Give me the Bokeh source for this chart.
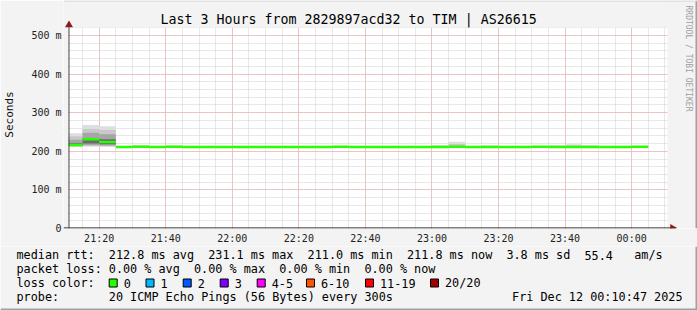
import math
from bokeh.plotting import figure
from bokeh.layouts import column
from bokeh.models import Range1d, FixedTicker
from bokeh.core.properties import value
from bokeh.embed import file_html
from bokeh.resources import INLINE

FONT = "DejaVu Sans Mono"
BG = "#f3f3f3"

# ---------------- data ----------------
title_text = "Last 3 Hours from 2829897acd32 to TIM | AS26615"
window_end = "00:10:47"
window_hours = 3

bin_start = ["21:10", "21:15", "21:20", "21:25", "21:30", "21:35", "21:40", "21:45", "21:50", "21:55",
             "22:00", "22:05", "22:10", "22:15", "22:20", "22:25", "22:30", "22:35", "22:40", "22:45",
             "22:50", "22:55", "23:00", "23:05", "23:10", "23:15", "23:20", "23:25", "23:30", "23:35",
             "23:40", "23:45", "23:50", "23:55", "00:00"]
bin_minutes = 5

median_ms = [216.0, 231.1, 224.0, 211.3, 211.6, 211.4, 211.5, 211.2, 211.3, 211.4,
             211.2, 211.3, 211.1, 211.4, 211.2, 211.3, 211.5, 211.2, 211.0, 211.3,
             211.2, 211.4, 211.3, 211.6, 211.2, 211.4, 211.3, 211.2, 211.5, 211.3,
             211.4, 211.2, 211.3, 211.1, 211.8]

smoke_max = [247, 268, 265, 213, 216, 213, 215, 213, 213, 213,
             213, 213, 213, 213, 213, 213, 213, 213, 213, 213,
             213, 213, 216, 225, 213, 215.5, 213, 213, 213, 216,
             218.5, 216, 213, 213, 213]
smoke_p90 = [239, 258, 255, 212.5, 214, 212.5, 213.5, 212.5, 212.5, 212.5,
             212.5, 212.5, 212.5, 212.5, 212.5, 212.5, 212.5, 212.5, 212.5, 212.5,
             212.5, 212.5, 214, 219, 212.5, 213.5, 212.5, 212.5, 212.5, 214,
             215, 214, 212.5, 212.5, 212.5]
smoke_p75 = [230, 248, 244, 212, 212.5, 212, 212.5, 212, 212, 212,
             212, 212, 212, 212, 212, 212, 212, 212, 212, 212,
             212, 212, 212.5, 214, 212, 212.5, 212, 212, 212, 212.5,
             213, 212.5, 212, 212, 212]
smoke_p60 = [221, 234, 231, 211.7, 211.9, 211.7, 211.8, 211.6, 211.6, 211.7,
             211.6, 211.6, 211.5, 211.7, 211.6, 211.6, 211.8, 211.6, 211.4, 211.7,
             211.6, 211.7, 211.7, 212.0, 211.6, 211.8, 211.7, 211.6, 211.8, 211.7,
             211.8, 211.6, 211.7, 211.5, 212.1]
smoke_p40 = [215, 220, 218, 211.0, 211.3, 211.1, 211.2, 210.9, 211.0, 211.1,
             210.9, 211.0, 210.8, 211.1, 210.9, 211.0, 211.2, 210.9, 210.7, 211.0,
             210.9, 211.1, 211.0, 211.3, 210.9, 211.1, 211.0, 210.9, 211.2, 211.0,
             211.1, 210.9, 211.0, 210.8, 211.5]
smoke_p25 = [214, 216, 215, 210.8, 211.0, 210.8, 210.9, 210.7, 210.8, 210.8,
             210.7, 210.8, 210.6, 210.8, 210.7, 210.8, 210.9, 210.7, 210.5, 210.8,
             210.7, 210.8, 210.8, 211.0, 210.7, 210.8, 210.8, 210.7, 210.9, 210.8,
             210.8, 210.7, 210.8, 210.6, 211.2]
smoke_p10 = [212.5, 213.5, 213, 210.6, 210.7, 210.6, 210.7, 210.5, 210.6, 210.6,
             210.5, 210.6, 210.4, 210.6, 210.5, 210.6, 210.7, 210.5, 210.3, 210.6,
             210.5, 210.6, 210.6, 210.8, 210.5, 210.6, 210.6, 210.5, 210.7, 210.6,
             210.6, 210.5, 210.6, 210.4, 211.0]
smoke_min = [211, 212, 212, 210.4, 210.5, 210.4, 210.5, 210.3, 210.4, 210.4,
             210.3, 210.4, 210.2, 210.4, 210.3, 210.4, 210.5, 210.3, 210.1, 210.4,
             210.3, 210.4, 210.4, 210.6, 210.3, 210.4, 210.4, 210.3, 210.5, 210.4,
             210.4, 210.3, 210.4, 210.2, 210.8]

x_tick_labels = ["21:20", "21:40", "22:00", "22:20", "22:40", "23:00", "23:20", "23:40", "00:00"]
y_ticks = [0, 100, 200, 300, 400, 500]
y_tick_labels = ["0", "100 m", "200 m", "300 m", "400 m", "500 m"]
y_max = 520.7

rtt_avg, rtt_max, rtt_min, rtt_now, rtt_sd, am_s = 212.8, 231.1, 211.0, 211.8, 3.8, 55.4
loss_avg, loss_max, loss_min, loss_now = 0.00, 0.00, 0.00, 0.00
loss_labels = ["0", "1", "2", "3", "4-5", "6-10", "11-19", "20/20"]
loss_colors = ["#26ff00", "#00b8ff", "#0059ff", "#7e00ff", "#ff00ff", "#ff5500", "#ff0000", "#a00000"]
probe_text = "20 ICMP Echo Pings (56 Bytes) every 300s"
date_text = "Fri Dec 12 00:10:47 2025"
credit_text = "RRDTOOL / TOBI OETIKER"


def to_min(s):
    parts = [int(v) for v in s.split(":")]
    h = parts[0] + (24 if parts[0] < 12 else 0)
    sec = parts[2] if len(parts) > 2 else 0
    return (h - 21) * 60 + parts[1] + sec / 60.0


x_end = to_min(window_end)
x_start = x_end - window_hours * 60
starts = [to_min(s) for s in bin_start]
ends = [s + bin_minutes for s in starts]

# ---------------- layout (pixels) ----------------
W = 697
H_MAIN, H_LEG = 246, 64
CH_L, CH_R, CH_T, CH_B = 67, 667, 27, 228        # white chart area in canvas px
FR_L = 62                                        # frame left (room for axis stub)
PX_PER_MIN = (CH_R - CH_L) / (window_hours * 60)
PX_PER_Y = (CH_B - CH_T) / y_max

x_lo = x_start - (CH_L - FR_L) / PX_PER_MIN
x_hi = x_end + (W - CH_R) / PX_PER_MIN
y_hi = CH_B / PX_PER_Y


def dx(cx):
    return x_start + (cx - CH_L) / PX_PER_MIN


def dy(cy):
    return (CH_B - cy) / PX_PER_Y


p = figure(width=W, height=H_MAIN, output_backend="svg", toolbar_location=None,
           x_range=Range1d(x_lo, x_hi), y_range=Range1d(0, y_hi),
           min_border_left=FR_L, min_border_right=0, min_border_top=0,
           min_border_bottom=H_MAIN - CH_B, frame_align=False)
p.border_fill_color = BG
p.background_fill_color = "#ffffff"
p.outline_line_color = None

# smoke layers
layers = [(smoke_min, smoke_max, "#dedede"), (smoke_p10, smoke_p90, "#c8c8c8"),
          (smoke_p25, smoke_p75, "#a6a6a6"), (smoke_p40, smoke_p60, "#6a6a6a")]
for lo, hi, col in layers:
    p.quad(left=starts, right=ends, bottom=lo, top=hi, fill_color=col, line_color=None)

p.segment(x0=starts, y0=median_ms, x1=ends, y1=median_ms, line_color="#26ff00",
          line_width=2.5, line_cap="butt")

# background outside the white chart area
p.quad(left=[x_lo, x_end, x_lo], right=[x_start, x_hi, x_hi],
       bottom=[0, 0, y_max], top=[y_hi, y_hi, y_hi],
       fill_color=BG, line_color=None)

# axis lines with arrows
p.segment(x0=[dx(62)], y0=[dy(227.5)], x1=[dx(671)], y1=[dy(227.5)], line_color="#000000", line_width=1)
p.segment(x0=[dx(67.5)], y0=[dy(228)], x1=[dx(67.5)], y1=[dy(25)], line_color="#444444", line_width=1)
p.scatter(x=[dx(672)], y=[dy(227.5)], marker="triangle", size=8, angle=-math.pi / 2,
          fill_color="#8b1a1a", line_color=None)
p.scatter(x=[dx(67.5)], y=[dy(24.5)], marker="triangle", size=8,
          fill_color="#8b1a1a", line_color=None)

# title and credit
p.text(x=[dx(347.5)], y=[dy(19)], text=[title_text], text_font=value(FONT),
       text_font_size="13.3px", text_align="center", text_baseline="middle", text_color="#000000")
p.text(x=[dx(688)], y=[dy(58)], text=[credit_text], text_font=value(FONT),
       text_font_size="8px", text_align="center", text_baseline="middle",
       text_color="#a0a0a0", angle=-math.pi / 2)

# frame shading (right / top)
p.quad(left=[dx(695)], right=[x_hi], bottom=[0], top=[y_hi], fill_color="#a0a0a0", line_color=None)
p.quad(left=[x_lo], right=[x_hi], bottom=[dy(1)], top=[y_hi], fill_color="#d0d0d0", line_color=None)

# axes
xt = [to_min(t) for t in x_tick_labels]
x_minor = list(range(15, int(x_end) + 1, 5))
p.xaxis.ticker = FixedTicker(ticks=xt, minor_ticks=x_minor)
p.xaxis.major_label_overrides = {v: l for v, l in zip(xt, x_tick_labels)}
p.yaxis.ticker = FixedTicker(ticks=y_ticks, minor_ticks=list(range(0, 521, 20)))
p.yaxis.major_label_overrides = {v: l for v, l in zip(y_ticks, y_tick_labels)}

for ax in (p.xaxis[0], p.yaxis[0]):
    ax.major_tick_out = 0
    ax.major_tick_in = 0
    ax.minor_tick_out = 0
    ax.minor_tick_in = 0
    ax.axis_line_color = None
    ax.major_label_text_font = FONT
    ax.major_label_text_font_size = "10px"
    ax.major_label_text_color = "#222222"
p.xaxis.major_label_standoff = 4
p.yaxis.major_label_standoff = 2
p.yaxis.axis_label = "Seconds"
p.yaxis.axis_label_text_font = FONT
p.yaxis.axis_label_text_font_size = "11px"
p.yaxis.axis_label_text_font_style = "normal"
p.yaxis.axis_label_text_color = "#111111"
p.yaxis.axis_label_standoff = 12

for g in (p.xgrid[0], p.ygrid[0]):
    g.grid_line_color = "#f2a0a0"
    g.grid_line_dash = "1 1"
    g.minor_grid_line_color = "#d0d0d0"
    g.minor_grid_line_dash = "1 1"

# ---------------- legend strip ----------------
leg = figure(width=W, height=H_LEG, output_backend="svg", toolbar_location=None,
             x_range=Range1d(0, W), y_range=Range1d(H_MAIN + H_LEG, H_MAIN),
             x_axis_type=None, y_axis_type=None, frame_align=False,
             min_border_left=0, min_border_right=0, min_border_top=0, min_border_bottom=0)
leg.border_fill_color = BG
leg.background_fill_color = BG
leg.outline_line_color = None
leg.xgrid.visible = False
leg.ygrid.visible = False

CW = 7.1
X0 = 16
rows_y = [254.5, 268.5, 282.5, 296.5]
row1 = [("median rtt:", 0), (f"{rtt_avg:.1f} ms avg", 13), (f"{rtt_max:.1f} ms max", 27),
        (f"{rtt_min:.1f} ms min", 41), (f"{rtt_now:.1f} ms now", 55), (f"{rtt_sd:.1f} ms sd", 69),
        (f"{am_s:.1f}", 80), ("am/s", 87)]
row2 = [("packet loss:", 0), (f"{loss_avg:.2f} % avg", 13), (f"{loss_max:.2f} % max", 25),
        (f"{loss_min:.2f} % min", 37), (f"{loss_now:.2f} % now", 49)]
row4 = [("probe:", 0), (probe_text, 13)]

tx, ty, tt = [], [], []
for segs, ry in ((row1, rows_y[0]), (row2, rows_y[1]), (row4, rows_y[3])):
    for t, c in segs:
        tx.append(X0 + c * CW)
        ty.append(ry)
        tt.append(t)
tx.append(X0)
ty.append(rows_y[2])
tt.append("loss color:")

sq_x = [108.7, 145.5, 182.7, 219.7, 256.7, 306.0, 365.0, 430.0]
for sx, l in zip(sq_x, loss_labels):
    tx.append(sx + 14.5)
    ty.append(rows_y[2])
    tt.append(l)

leg.text(x=tx, y=ty, text=tt, text_font=value(FONT), text_font_size="11.8px",
         text_align="left", text_baseline="middle", text_color="#000000")
leg.text(x=[682], y=[rows_y[3]], text=[date_text], text_font=value(FONT), text_font_size="11.8px",
         text_align="right", text_baseline="middle", text_color="#000000")
leg.quad(left=sq_x, right=[s + 8 for s in sq_x], top=[rows_y[2] - 4] * len(sq_x),
         bottom=[rows_y[2] + 4] * len(sq_x), fill_color=loss_colors, line_color="#000000", line_width=1)

# frame shading (right / bottom)
leg.quad(left=[695], right=[W], top=[H_MAIN], bottom=[H_MAIN + H_LEG], fill_color="#a0a0a0", line_color=None)
leg.quad(left=[0], right=[W], top=[H_MAIN + H_LEG - 2], bottom=[H_MAIN + H_LEG], fill_color="#a0a0a0", line_color=None)

layout = column(p, leg, spacing=0)
open("out.html", "w").write(file_html(layout, INLINE))
